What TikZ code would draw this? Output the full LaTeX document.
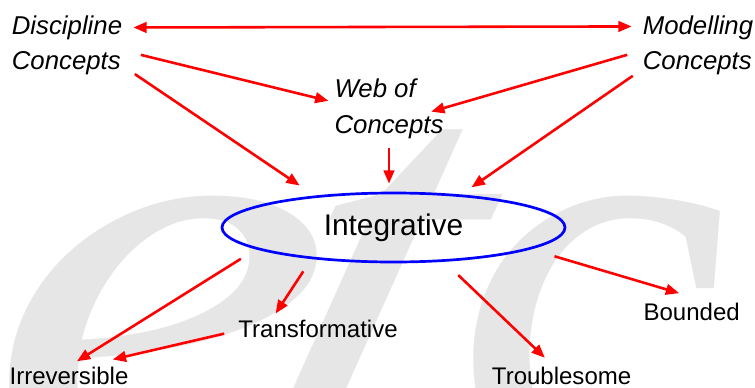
\documentclass[tikz,border=0pt]{standalone}
\usepackage{fontspec}
\setmainfont{Liberation Sans}
\newfontfamily\wmfont{Liberation Serif}
\usepackage{tikz}
\usetikzlibrary{arrows.meta,shapes.geometric}
\definecolor{wmgrey}{RGB}{230,230,230}
\tikzset{%
	concept/.style   = {align=left, inner sep=0pt, font=\itshape\fontsize{22}{30.3}\selectfont},
	threshold/.style = {inner sep=0pt, font=\fontsize{20.5}{24}\selectfont},
	core/.style      = {draw=blue, line width=2.3pt, ellipse, inner sep=0pt, minimum width=10.29cm, minimum height=2.07cm, font=\fontsize{25.5}{30}\selectfont},
	link/.style      = {red, line width=2.2pt, >={Triangle[length=0.4cm,width=0.32cm]}, ->},
	watermark/.style = {anchor=base west, text=wmgrey, inner sep=0pt, transform shape, font=\wmfont\itshape\fontsize{560}{560}\selectfont},
}

\begin{document}
\begin{tikzpicture}[x=0.03cm,y=-0.03cm]
	\useasboundingbox (0,0) rectangle (755,387);
	% watermark
	\begin{scope}
		\clip (0,0) rectangle (755,387);
		\foreach \l/\x/\s/\h/\k in {e/-15/1.2/0.92/0, t/232/1/0.95/0.25, c/465/1/0.92/-0.1}
			\node[watermark, xscale=\s, yscale=\h, xslant=\k] (wm-\l) at (\x,480) {\l};
	\end{scope}
	
	\node[concept] (disc) at (67,45.5) {Discipline\\Concepts};
	\node[concept] (model) at (698,45.5) {Modelling\\Concepts};
	\node[concept] (web) at (389,109) {Web of\\Concepts};
	\node[core] (integ) at (393.5,227.5) {Integrative};
	\node[threshold] (trans) at (318,329) {Transformative};
	\node[threshold] (irrev) at (69,376) {Irreversible};
	\node[threshold] (troub) at (561.6,376) {Troublesome};
	\node[threshold] (bound) at (691.7,311.7) {Bounded};
	
	% into the web and the core
	\draw[link,<->,shorten <=0.33cm,shorten >=0.33cm] (disc.18.5) -- (model.161.5);
	\draw[link,shorten <=0.57cm,shorten >=0.18cm] (disc.-5.4) -- (web.173.3);
	\draw[link,shorten <=0.45cm,shorten >=0.54cm] (disc.-20.6) -- (integ.158.1);
	\draw[link,shorten <=0.48cm,shorten >=-0.39cm] (model.185.8) -- (web.1.4);
	\draw[link,shorten <=0.36cm,shorten >=0.38cm] (model.203.3) -- (integ.26.1);
	\draw[link,shorten <=0.27cm,shorten >=0.24cm] (web.south) -- (web.south |- integ.north);
	
	% out of the core
	\draw[link,shorten <=0.54cm,shorten >=0.32cm] (integ.189.4) -- (irrev.97);
	\draw[link,shorten <=0.44cm,shorten >=0.23cm] (integ.201.2) -- (trans.169.8);
	\draw[link,shorten <=0.43cm,shorten >=0.99cm] (trans.181.3) -- (irrev.38.8);
	\draw[link,shorten <=0.58cm,shorten >=0.40cm] (integ.326.8) -- (troub.128.7);
	\draw[link,shorten <=0.74cm,shorten >=1.0cm] (integ.351.7) -- (bound.25.6);
\end{tikzpicture}
\end{document}
